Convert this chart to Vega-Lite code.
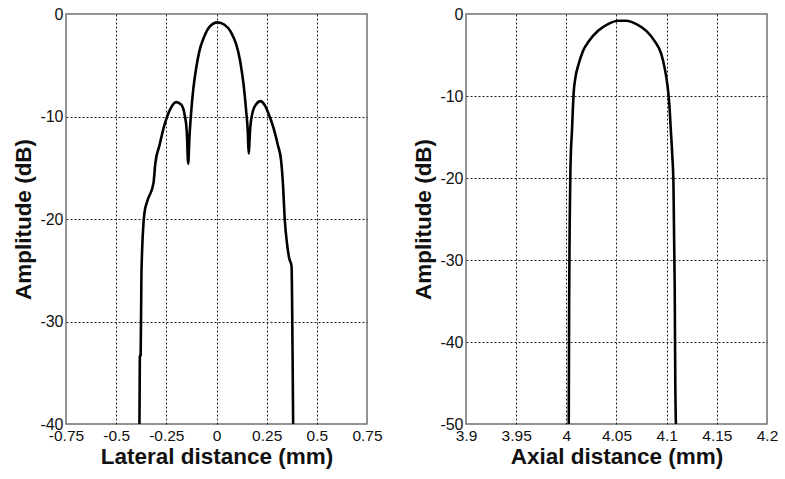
{
  "$schema": "https://vega.github.io/schema/vega-lite/v6.json",
  "background": "white",
  "padding": {"left": 12, "top": 5, "right": 5, "bottom": 5},
  "bounds": "flush",
  "spacing": 99,
  "config": {
    "view": {"stroke": "#707070", "strokeWidth": 1.5},
    "axis": {
      "grid": true,
      "gridDash": [2, 2],
      "gridColor": "#222222",
      "gridWidth": 1,
      "domain": false,
      "ticks": false,
      "labelFont": "Liberation Sans",
      "labelColor": "#111111",
      "labelFlush": false,
      "labelOverlap": false,
      "titleFont": "Liberation Sans",
      "titleFontSize": 22.5,
      "titleFontWeight": "bold",
      "titleColor": "#111111"
    },
    "axisX": {"labelFontSize": 15.5, "labelPadding": 4, "titlePadding": 2},
    "axisY": {"labelFontSize": 16, "labelPadding": 3, "titlePadding": 4}
  },
  "datasets": {
    "lateral": [
      {"x": -0.384, "y": -40},
      {"x": -0.382, "y": -33.4},
      {"x": -0.378, "y": -33.3},
      {"x": -0.374, "y": -25.2},
      {"x": -0.359, "y": -19.4},
      {"x": -0.344, "y": -18.2},
      {"x": -0.314, "y": -16.5},
      {"x": -0.305, "y": -14.6},
      {"x": -0.284, "y": -12.8},
      {"x": -0.259, "y": -10.8},
      {"x": -0.231, "y": -9.3},
      {"x": -0.201, "y": -8.6},
      {"x": -0.176, "y": -8.85},
      {"x": -0.159, "y": -9.8},
      {"x": -0.148, "y": -11.5},
      {"x": -0.141, "y": -14.6},
      {"x": -0.135, "y": -12.1},
      {"x": -0.126, "y": -9.5},
      {"x": -0.115, "y": -7.2},
      {"x": -0.101, "y": -5.25},
      {"x": -0.085, "y": -3.6},
      {"x": -0.063, "y": -2.3},
      {"x": -0.035, "y": -1.25},
      {"x": 0.005, "y": -0.82},
      {"x": 0.040, "y": -1.05},
      {"x": 0.073, "y": -1.8},
      {"x": 0.098, "y": -2.95},
      {"x": 0.118, "y": -4.6},
      {"x": 0.135, "y": -6.9},
      {"x": 0.148, "y": -9.5},
      {"x": 0.156, "y": -11.5},
      {"x": 0.160, "y": -13.6},
      {"x": 0.168, "y": -11.1},
      {"x": 0.181, "y": -9.5},
      {"x": 0.198, "y": -8.8},
      {"x": 0.219, "y": -8.5},
      {"x": 0.239, "y": -8.85},
      {"x": 0.261, "y": -9.8},
      {"x": 0.284, "y": -11.1},
      {"x": 0.306, "y": -12.8},
      {"x": 0.322, "y": -14.3},
      {"x": 0.331, "y": -16.5},
      {"x": 0.340, "y": -20.0},
      {"x": 0.352, "y": -22.5},
      {"x": 0.362, "y": -23.8},
      {"x": 0.374, "y": -24.6},
      {"x": 0.379, "y": -32.9},
      {"x": 0.382, "y": -40}
    ],
    "axial": [
      {"x": 4.0024, "y": -50},
      {"x": 4.0028, "y": -35},
      {"x": 4.0034, "y": -25},
      {"x": 4.0040, "y": -19.5},
      {"x": 4.0046, "y": -16.7},
      {"x": 4.0056, "y": -14.3},
      {"x": 4.0064, "y": -11.9},
      {"x": 4.0072, "y": -9.8},
      {"x": 4.0090, "y": -7.8},
      {"x": 4.0123, "y": -6.1},
      {"x": 4.0166, "y": -4.5},
      {"x": 4.0226, "y": -3.3},
      {"x": 4.0316, "y": -2.05},
      {"x": 4.0415, "y": -1.23},
      {"x": 4.0515, "y": -0.82},
      {"x": 4.0598, "y": -0.82},
      {"x": 4.0698, "y": -1.23},
      {"x": 4.0797, "y": -2.05},
      {"x": 4.0880, "y": -3.3},
      {"x": 4.0947, "y": -4.9},
      {"x": 4.0980, "y": -6.6},
      {"x": 4.1007, "y": -8.6},
      {"x": 4.1027, "y": -11.1},
      {"x": 4.1042, "y": -14.3},
      {"x": 4.1055, "y": -17},
      {"x": 4.1068, "y": -21},
      {"x": 4.1080, "y": -33},
      {"x": 4.1086, "y": -45},
      {"x": 4.1092, "y": -50}
    ]
  },
  "hconcat": [
    {
      "width": 301,
      "height": 410,
      "data": {"name": "lateral"},
      "mark": {"type": "line", "color": "black", "strokeWidth": 2.6, "clip": true, "interpolate": "monotone"},
      "encoding": {
        "x": {
          "field": "x", "type": "quantitative",
          "scale": {"domain": [-0.75, 0.75], "nice": false, "zero": false},
          "axis": {
            "title": "Lateral distance (mm)",
            "values": [-0.75, -0.5, -0.25, 0, 0.25, 0.5, 0.75],
            "labelExpr": "toString(datum.value)",
            "gridOpacity": {"condition": {"test": "abs(datum.value) > 0.7", "value": 0}, "value": 1}
          }
        },
        "y": {
          "field": "y", "type": "quantitative",
          "scale": {"domain": [-40, 0], "nice": false, "zero": false},
          "axis": {
            "title": "Amplitude (dB)",
            "values": [-40, -30, -20, -10, 0],
            "labelExpr": "toString(datum.value)",
            "gridOpacity": {"condition": {"test": "datum.value == 0 || datum.value == -40", "value": 0}, "value": 1}
          }
        }
      }
    },
    {
      "width": 301,
      "height": 410,
      "data": {"name": "axial"},
      "mark": {"type": "line", "color": "black", "strokeWidth": 2.6, "clip": true, "interpolate": "monotone"},
      "encoding": {
        "x": {
          "field": "x", "type": "quantitative",
          "scale": {"domain": [3.9, 4.2], "nice": false, "zero": false},
          "axis": {
            "title": "Axial distance (mm)",
            "values": [3.9, 3.95, 4, 4.05, 4.1, 4.15, 4.2],
            "labelExpr": "toString(datum.value)",
            "gridOpacity": {"condition": {"test": "datum.value < 3.91 || datum.value > 4.19", "value": 0}, "value": 1}
          }
        },
        "y": {
          "field": "y", "type": "quantitative",
          "scale": {"domain": [-50, 0], "nice": false, "zero": false},
          "axis": {
            "title": "Amplitude (dB)",
            "values": [-50, -40, -30, -20, -10, 0],
            "labelExpr": "toString(datum.value)",
            "gridOpacity": {"condition": {"test": "datum.value == 0 || datum.value == -50", "value": 0}, "value": 1}
          }
        }
      }
    }
  ]
}
